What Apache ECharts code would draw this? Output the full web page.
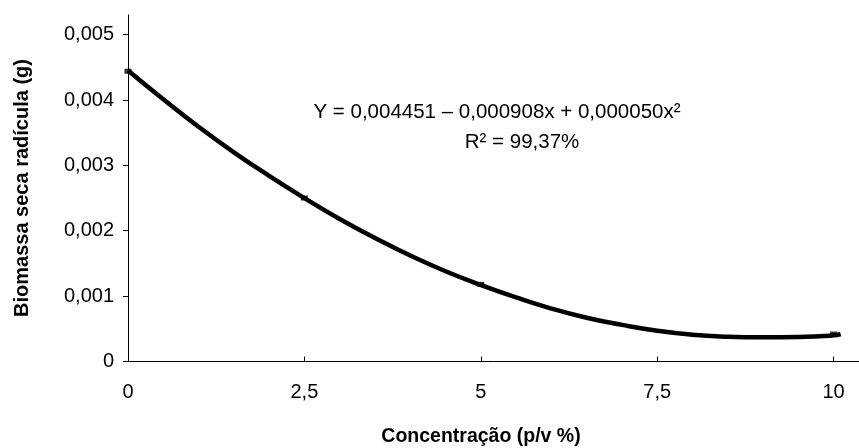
<!DOCTYPE html>
<html>
<head>
<meta charset="utf-8">
<script src="https://cdn.jsdelivr.net/npm/echarts@6/dist/echarts.min.js"></script>
<style>html,body{margin:0;padding:0;background:#fff}#c{width:859px;height:448px}</style>
</head>
<body>
<div id="c"></div>
<script>
// Fitted curve, values
const curveX = [0, 0.5, 1, 1.5, 2, 2.5, 3, 3.5, 4, 4.5, 5, 5.5, 6, 6.5, 7, 7.5, 8, 8.5, 9, 9.5, 10, 10.1];
const curveY = [0.00445, 0.00401, 0.00359, 0.00320, 0.00284, 0.00250, 0.00218, 0.00189, 0.00162, 0.00138, 0.00117, 0.00098, 0.00081, 0.00067, 0.00056, 0.00047, 0.00041, 0.00038, 0.00037, 0.000375, 0.00040, 0.00042];
// Observed points (small markers)
const pointX = [0, 2.5, 5, 10];
const pointY = [0.00444, 0.00250, 0.00118, 0.00042];
const xTicks = [0, 2.5, 5, 7.5, 10];
const equationText = 'Y = 0,004451 \u2013 0,000908x + 0,000050x\u00B2';
const r2Text = 'R\u00B2 = 99,37%';
const xName = 'Concentra\u00E7\u00E3o (p/v %)';
const yName = 'Biomassa seca rad\u00EDcula (g)';

const chart = echarts.init(document.getElementById('c'), null, {renderer: 'canvas'});
const font = 'Liberation Sans, Arial, sans-serif';
chart.setOption({
  animation: false,
  grid: {left: 128, right: 0, top: 15, bottom: 86.5, containLabel: false},
  xAxis: {
    type: 'value', min: 0, max: 10.36, interval: 2.5,
    axisLine: {show: true, lineStyle: {color: '#000', width: 1}},
    axisTick: {show: true, inside: true, length: 5, lineStyle: {color: '#000'}},
    axisLabel: {color: '#000', fontSize: 20, fontFamily: font, margin: 21, showMaxLabel: false,
      formatter: v => xTicks.indexOf(v) >= 0 ? String(v).replace('.', ',') : ''},
    splitLine: {show: false}
  },
  yAxis: {
    type: 'value', min: 0, max: 0.0053, interval: 0.001,
    axisLine: {show: true, lineStyle: {color: '#000', width: 1}},
    axisTick: {show: true, length: 5, lineStyle: {color: '#000'}},
    axisLabel: {color: '#000', fontSize: 20, fontFamily: font, margin: 14, showMaxLabel: false,
      formatter: v => v === 0 ? '0' : v.toFixed(3).replace('.', ',')},
    splitLine: {show: false}
  },
  graphic: [
    {type: 'text', style: {text: equationText, x: 497, y: 112, align: 'center', verticalAlign: 'middle', fontSize: 20.5, fontFamily: font, fill: '#000'}},
    {type: 'text', style: {text: r2Text, x: 522, y: 142, align: 'center', verticalAlign: 'middle', fontSize: 20.5, fontFamily: font, fill: '#000'}},
    {type: 'text', style: {text: xName, x: 481, y: 437, align: 'center', verticalAlign: 'middle', fontSize: 19.5, fontWeight: 'bold', fontFamily: font, fill: '#000'}},
    {type: 'text', rotation: Math.PI / 2, x: 22, y: 188, style: {text: yName, x: 0, y: 0, align: 'center', verticalAlign: 'middle', fontSize: 20, fontWeight: 'bold', fontFamily: font, fill: '#000'}}
  ],
  series: [
    {type: 'line', data: curveX.map((x, i) => [x, curveY[i]]), smooth: true, showSymbol: false,
      lineStyle: {color: '#000', width: 4.5}, z: 2},
    {type: 'scatter', data: pointX.map((x, i) => [x, pointY[i]]), symbol: 'rect', symbolSize: [7, 5],
      itemStyle: {color: '#000'}, z: 3}
  ]
});
</script>
</body>
</html>
